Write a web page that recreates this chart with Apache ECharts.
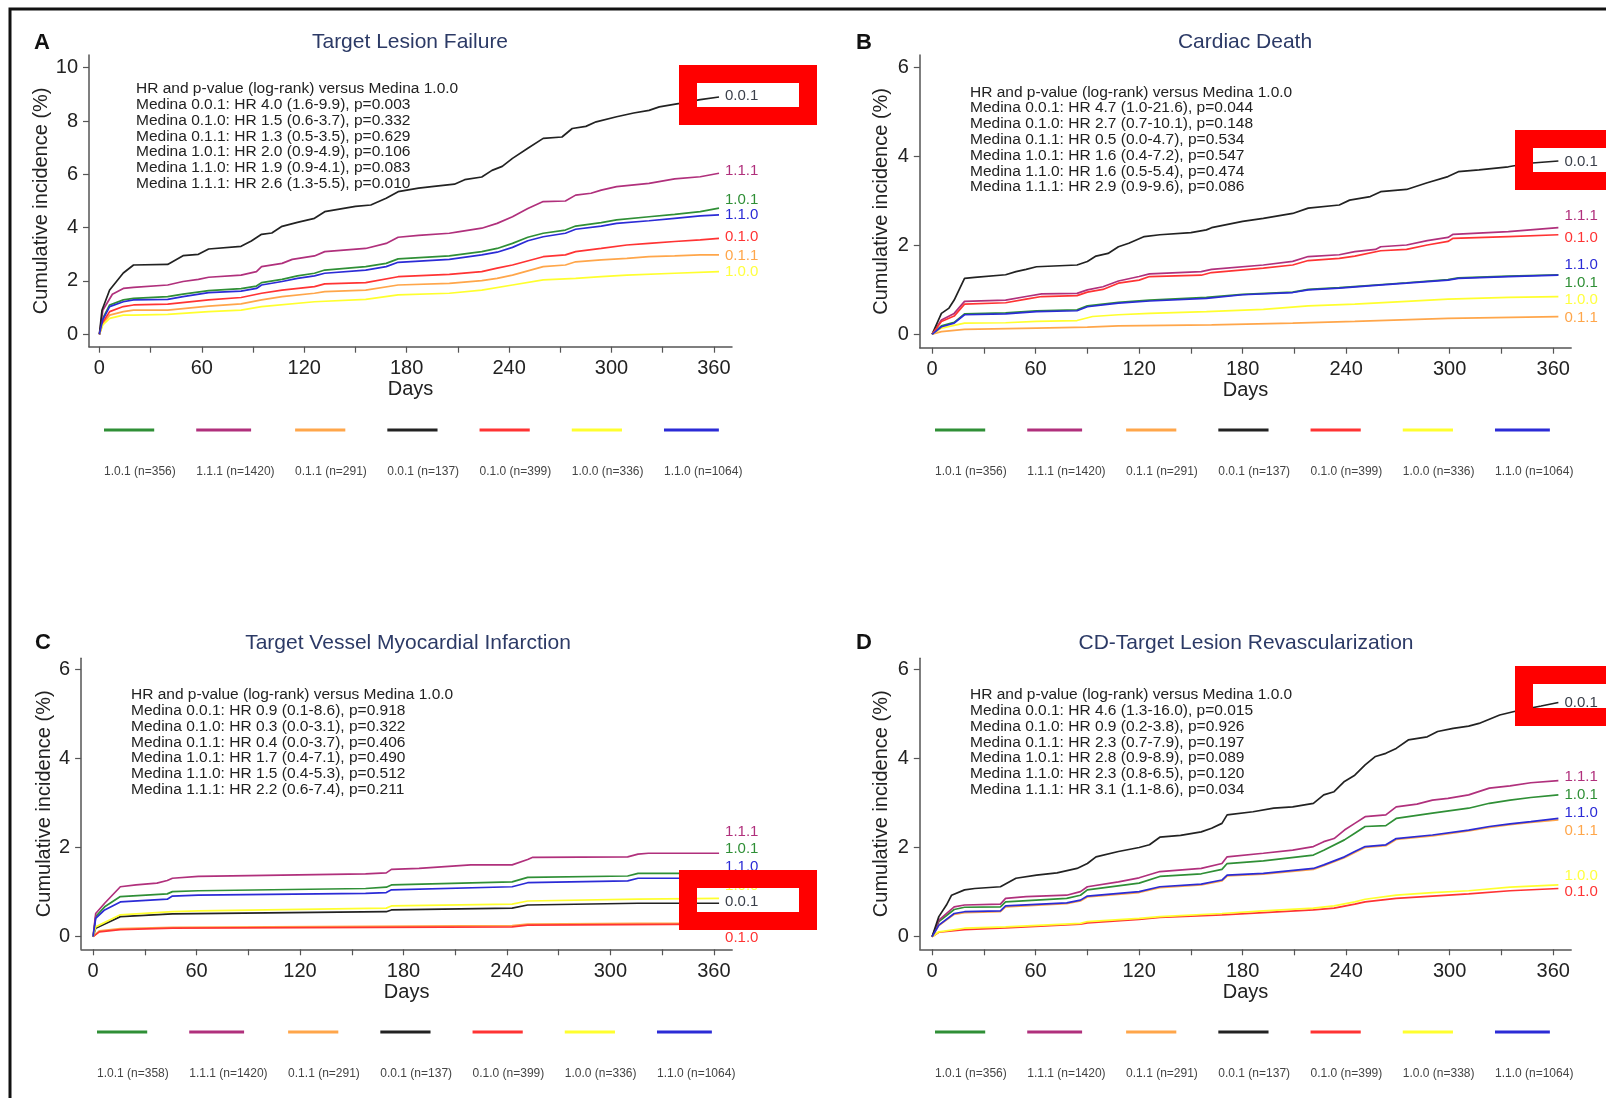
<!DOCTYPE html>
<html>
<head>
<meta charset="utf-8">
<title>Medina cumulative incidence</title>
<script src="https://cdn.jsdelivr.net/npm/echarts@6/dist/echarts.min.js"></script>
<style>
  html, body { margin: 0; padding: 0; background: #fff; }
  #chart { width: 1606px; height: 1098px; }
</style>
</head>
<body>
<div id="chart"></div>
<script>
// Medina groups, in legend / drawing order
const groups = ['1.0.1', '1.1.1', '0.1.1', '0.0.1', '0.1.0', '1.0.0', '1.1.0']
const xTicks = [0, 30, 60, 90, 120, 150, 180, 210, 240, 270, 300, 330, 360]
const xLabels = [0, 60, 120, 180, 240, 300, 360]

// A - Target Lesion Failure, [day, %]
const tlf_101 = [[0,0],[2,0.6],[6,1.1],[14,1.29],[20,1.35],[40,1.41],[49,1.51],[64,1.64],[83,1.71],[92,1.81],[95,1.94],[107,2.06],[116,2.19],[126,2.29],[132,2.41],[156,2.54],[168,2.66],[175,2.83],[205,2.94],[224,3.1],[233,3.22],[242,3.41],[251,3.64],[260,3.79],[273,3.91],[279,4.06],[294,4.19],[303,4.29],[322,4.41],[337,4.5],[352,4.6],[363,4.73]]
const tlf_111 = [[0,0],[2,0.9],[7.6,1.5],[14,1.72],[20,1.76],[40,1.85],[49,1.98],[58,2.06],[64,2.14],[83,2.22],[92,2.35],[95,2.54],[107,2.66],[113,2.81],[126,2.94],[132,3.1],[156,3.22],[168,3.41],[175,3.64],[187,3.71],[205,3.79],[211,3.85],[224,3.98],[233,4.16],[242,4.41],[251,4.72],[260,4.98],[273,5.0],[279,5.22],[288,5.29],[294,5.41],[303,5.54],[322,5.66],[337,5.83],[352,5.91],[363,6.04]]
const tlf_011 = [[0,0],[2,0.4],[6,0.72],[14,0.85],[20,0.91],[40,0.91],[64,1.06],[83,1.14],[95,1.29],[107,1.41],[126,1.54],[132,1.6],[156,1.66],[175,1.85],[205,1.91],[224,2.01],[233,2.1],[242,2.22],[260,2.54],[273,2.6],[279,2.72],[294,2.79],[309,2.85],[322,2.91],[337,2.94],[352,2.98],[363,2.98]]
const tlf_001 = [[0,0],[1.5,0.9],[6,1.66],[14,2.3],[20,2.6],[40,2.62],[49,2.95],[58,3.0],[64,3.2],[83,3.3],[89,3.5],[95,3.75],[101,3.8],[107,4.05],[116,4.2],[126,4.35],[132,4.6],[150,4.8],[159,4.85],[168,5.1],[175,5.35],[187,5.48],[196,5.55],[208,5.63],[214,5.8],[224,5.9],[230,6.15],[236,6.3],[242,6.6],[251,6.98],[260,7.35],[271,7.4],[277,7.72],[285,7.8],[291,7.97],[303,8.16],[313,8.3],[322,8.4],[328,8.53],[340,8.66],[352,8.8],[363,8.9]]
const tlf_010 = [[0,0],[2,0.45],[6,0.85],[14,1.04],[20,1.1],[40,1.13],[64,1.29],[83,1.38],[95,1.54],[107,1.66],[126,1.79],[132,1.89],[156,1.94],[175,2.16],[205,2.25],[224,2.35],[233,2.48],[242,2.6],[260,2.91],[273,2.98],[279,3.1],[294,3.22],[309,3.35],[322,3.41],[337,3.48],[352,3.54],[363,3.6]]
const tlf_100 = [[0,0],[2,0.35],[6,0.6],[14,0.72],[20,0.72],[40,0.75],[64,0.85],[83,0.91],[95,1.04],[126,1.22],[156,1.31],[175,1.48],[205,1.54],[224,1.66],[242,1.85],[260,2.04],[279,2.1],[294,2.16],[309,2.22],[337,2.29],[363,2.35]]
const tlf_110 = [[0,0],[2,0.55],[6,1.04],[14,1.22],[20,1.29],[40,1.31],[49,1.41],[64,1.56],[83,1.62],[92,1.72],[95,1.85],[107,1.98],[116,2.1],[126,2.19],[132,2.29],[156,2.41],[168,2.54],[175,2.7],[205,2.81],[224,2.98],[233,3.08],[242,3.26],[251,3.51],[260,3.66],[273,3.79],[279,3.94],[294,4.06],[303,4.16],[322,4.26],[337,4.35],[352,4.44],[363,4.48]]

// B - Cardiac Death
const cd_101 = [[0,0],[5.4,0.19],[12.8,0.27],[18.8,0.46],[42.6,0.48],[60.5,0.53],[84,0.55],[90,0.64],[108,0.72],[126,0.77],[159,0.83],[180,0.9],[209,0.95],[218,1.01],[236,1.05],[257,1.11],[275,1.16],[299,1.23],[305,1.27],[334,1.31],[363,1.34]]
const cd_111 = [[0,0],[5.4,0.32],[12.8,0.47],[18.8,0.74],[42.6,0.77],[54.5,0.85],[63.5,0.91],[84,0.92],[90,1.0],[99,1.07],[108,1.2],[120,1.3],[126,1.36],[156,1.41],[162,1.46],[192,1.56],[209,1.64],[218,1.75],[236,1.79],[245,1.86],[257,1.91],[260,1.97],[275,2.01],[287,2.11],[299,2.18],[302,2.25],[334,2.31],[363,2.4]]
const cd_011 = [[0,0],[5.4,0.06],[18.8,0.11],[60.5,0.14],[90,0.16],[108,0.19],[162,0.21],[209,0.25],[245,0.29],[299,0.36],[363,0.4]]
const cd_001 = [[0,0],[5.4,0.47],[9.8,0.59],[12.8,0.77],[18.8,1.26],[24.7,1.28],[42.6,1.34],[48.6,1.41],[54.5,1.46],[60.5,1.52],[84,1.56],[90,1.64],[95,1.76],[102,1.82],[108,1.97],[114,2.05],[123,2.2],[132,2.24],[150,2.29],[159,2.35],[162,2.4],[180,2.54],[192,2.61],[209,2.72],[218,2.84],[236,2.91],[242,3.02],[254,3.1],[260,3.21],[275,3.26],[287,3.41],[299,3.55],[305,3.66],[317,3.7],[334,3.77],[346,3.85],[363,3.9]]
const cd_010 = [[0,0],[5.4,0.29],[12.8,0.41],[18.8,0.68],[42.6,0.71],[54.5,0.79],[63.5,0.85],[84,0.87],[90,0.95],[99,1.01],[108,1.15],[120,1.22],[126,1.3],[156,1.33],[162,1.39],[192,1.49],[209,1.56],[218,1.66],[236,1.71],[245,1.76],[260,1.88],[275,1.91],[287,2.01],[299,2.09],[302,2.16],[334,2.2],[363,2.24]]
const cd_100 = [[0,0],[5.4,0.14],[18.8,0.25],[42.6,0.26],[60.5,0.29],[84,0.31],[93,0.4],[108,0.44],[126,0.47],[159,0.51],[192,0.56],[218,0.64],[245,0.68],[275,0.74],[299,0.79],[334,0.83],[363,0.85]]
const cd_110 = [[0,0],[5.4,0.17],[12.8,0.25],[18.8,0.44],[42.6,0.46],[60.5,0.51],[84,0.53],[90,0.62],[108,0.7],[126,0.75],[159,0.81],[180,0.89],[209,0.94],[218,1.0],[236,1.04],[257,1.1],[275,1.15],[299,1.22],[305,1.26],[334,1.3],[363,1.33]]

// C - Target Vessel Myocardial Infarction
const tvmi_101 = [[0,0],[1.5,0.45],[6.7,0.67],[15.8,0.9],[43,0.96],[46,1.01],[61,1.03],[158,1.08],[170,1.11],[173,1.16],[243,1.23],[252,1.33],[310,1.36],[316,1.42],[363,1.42]]
const tvmi_111 = [[0,0],[1.5,0.52],[6.7,0.75],[15.8,1.12],[24.9,1.16],[37,1.2],[43,1.26],[46,1.31],[61,1.35],[158,1.41],[170,1.43],[173,1.51],[189,1.53],[219,1.61],[243,1.61],[252,1.73],[255,1.78],[310,1.79],[316,1.85],[322,1.87],[363,1.87]]
const tvmi_011 = [[0,0],[3.6,0.13],[15.8,0.18],[46,0.21],[243,0.25],[252,0.28],[316,0.3],[363,0.3]]
const tvmi_001 = [[0,0],[1.5,0.19],[15.8,0.45],[46,0.51],[170,0.56],[173,0.6],[243,0.64],[252,0.71],[316,0.75],[363,0.75]]
const tvmi_010 = [[0,0],[3.6,0.11],[15.8,0.16],[46,0.19],[243,0.22],[252,0.26],[363,0.28]]
const tvmi_100 = [[0,0],[1.5,0.22],[15.8,0.49],[46,0.56],[61,0.58],[170,0.64],[173,0.69],[243,0.73],[252,0.8],[316,0.84],[363,0.86]]
const tvmi_110 = [[0,0],[1.5,0.41],[6.7,0.6],[15.8,0.78],[43,0.84],[46,0.91],[61,0.93],[158,0.97],[170,0.99],[173,1.05],[243,1.12],[252,1.21],[310,1.25],[316,1.31],[363,1.31]]

// D - CD-Target Lesion Revascularization
const cdtlr_101 = [[0,0],[3.9,0.34],[12.8,0.61],[18.8,0.66],[39.6,0.67],[42.6,0.78],[78,0.86],[86,0.93],[90,1.05],[120,1.2],[132,1.35],[156,1.41],[168,1.51],[171,1.64],[192,1.7],[221,1.83],[227,1.94],[239,2.17],[245,2.32],[251,2.47],[263,2.49],[269,2.65],[290,2.77],[311,2.88],[323,2.99],[335,3.06],[347,3.12],[363,3.18]]
const cdtlr_111 = [[0,0],[3.9,0.37],[12.8,0.67],[18.8,0.71],[39.6,0.73],[42.6,0.86],[54.5,0.9],[78,0.93],[86,1.01],[90,1.12],[108,1.23],[120,1.32],[132,1.46],[156,1.53],[168,1.64],[171,1.79],[192,1.87],[209,1.94],[221,2.02],[227,2.13],[233,2.2],[239,2.39],[245,2.54],[251,2.69],[263,2.73],[269,2.91],[281,2.97],[290,3.06],[299,3.1],[311,3.18],[323,3.33],[335,3.38],[347,3.45],[363,3.5]]
const cdtlr_011 = [[0,0],[3.9,0.25],[12.8,0.5],[18.8,0.54],[39.6,0.56],[42.6,0.67],[78,0.74],[86,0.8],[90,0.89],[120,0.99],[132,1.1],[156,1.16],[168,1.25],[171,1.36],[192,1.4],[221,1.51],[227,1.59],[239,1.77],[245,1.89],[251,2.0],[263,2.04],[269,2.18],[290,2.26],[311,2.37],[323,2.45],[335,2.51],[347,2.56],[363,2.62]]
const cdtlr_001 = [[0,0],[3.9,0.45],[8.3,0.71],[11.3,0.93],[18.8,1.05],[24.7,1.08],[39.6,1.12],[48.6,1.31],[60.5,1.38],[72.4,1.43],[84,1.53],[90,1.64],[95,1.79],[108,1.91],[120,2.0],[126,2.06],[132,2.23],[144,2.27],[156,2.35],[162,2.43],[168,2.54],[171,2.73],[186,2.8],[198,2.88],[209,2.91],[221,2.99],[227,3.18],[233,3.25],[239,3.48],[245,3.62],[251,3.85],[257,4.04],[263,4.11],[269,4.22],[276,4.41],[287,4.48],[293,4.6],[302,4.67],[311,4.72],[317,4.78],[329,4.97],[341,5.08],[353,5.17],[363,5.25]]
const cdtlr_010 = [[0,0],[3.9,0.1],[18.8,0.16],[42.6,0.2],[86,0.28],[90,0.31],[120,0.39],[132,0.43],[168,0.49],[192,0.54],[221,0.6],[233,0.64],[245,0.73],[251,0.78],[269,0.86],[290,0.91],[311,0.96],[335,1.03],[363,1.08]]
const cdtlr_100 = [[0,0],[3.9,0.11],[18.8,0.19],[42.6,0.22],[86,0.3],[90,0.34],[120,0.41],[132,0.45],[168,0.52],[192,0.58],[221,0.64],[233,0.69],[245,0.78],[251,0.84],[269,0.93],[290,0.99],[311,1.03],[335,1.11],[363,1.16]]
const cdtlr_110 = [[0,0],[3.9,0.26],[12.8,0.52],[18.8,0.56],[39.6,0.58],[42.6,0.69],[78,0.76],[86,0.82],[90,0.91],[120,1.01],[132,1.12],[156,1.18],[168,1.27],[171,1.38],[192,1.42],[221,1.53],[227,1.61],[239,1.79],[245,1.91],[251,2.02],[263,2.06],[269,2.2],[290,2.28],[311,2.39],[323,2.47],[335,2.53],[347,2.58],[363,2.65]]

// patients per group, in legend order
const countsA = [356, 1420, 291, 137, 399, 336, 1064]
const countsB = [356, 1420, 291, 137, 399, 336, 1064]
const countsC = [358, 1420, 291, 137, 399, 336, 1064]
const countsD = [356, 1420, 291, 137, 399, 338, 1064]

const hrHead = 'HR and p-value (log-rank) versus Medina 1.0.0'
const hrA = ['Medina 0.0.1: HR 4.0 (1.6-9.9), p=0.003', 'Medina 0.1.0: HR 1.5 (0.6-3.7), p=0.332', 'Medina 0.1.1: HR 1.3 (0.5-3.5), p=0.629', 'Medina 1.0.1: HR 2.0 (0.9-4.9), p=0.106', 'Medina 1.1.0: HR 1.9 (0.9-4.1), p=0.083', 'Medina 1.1.1: HR 2.6 (1.3-5.5), p=0.010']
const hrB = ['Medina 0.0.1: HR 4.7 (1.0-21.6), p=0.044', 'Medina 0.1.0: HR 2.7 (0.7-10.1), p=0.148', 'Medina 0.1.1: HR 0.5 (0.0-4.7), p=0.534', 'Medina 1.0.1: HR 1.6 (0.4-7.2), p=0.547', 'Medina 1.1.0: HR 1.6 (0.5-5.4), p=0.474', 'Medina 1.1.1: HR 2.9 (0.9-9.6), p=0.086']
const hrC = ['Medina 0.0.1: HR 0.9 (0.1-8.6), p=0.918', 'Medina 0.1.0: HR 0.3 (0.0-3.1), p=0.322', 'Medina 0.1.1: HR 0.4 (0.0-3.7), p=0.406', 'Medina 1.0.1: HR 1.7 (0.4-7.1), p=0.490', 'Medina 1.1.0: HR 1.5 (0.4-5.3), p=0.512', 'Medina 1.1.1: HR 2.2 (0.6-7.4), p=0.211']
const hrD = ['Medina 0.0.1: HR 4.6 (1.3-16.0), p=0.015', 'Medina 0.1.0: HR 0.9 (0.2-3.8), p=0.926', 'Medina 0.1.1: HR 2.3 (0.7-7.9), p=0.197', 'Medina 1.0.1: HR 2.8 (0.9-8.9), p=0.089', 'Medina 1.1.0: HR 2.3 (0.8-6.5), p=0.120', 'Medina 1.1.1: HR 3.1 (1.1-8.6), p=0.034']

const colors = ['#2f8f36', '#b0307c', '#ffa64a', '#222222', '#ff3333', '#ffff2e', '#2b2bd6']
const labelColors = ['#2f8f36', '#b0307c', '#ffa64a', '#3a3f4a', '#ff3333', '#ffff40', '#2b2bd6']
const FONT = "'Liberation Sans', Arial, sans-serif"

// pixel layout of each panel (axis lines, tick 0 / 360, label rows)
const panels = [
  { letter: 'A', title: 'Target Lesion Failure', curves: [tlf_101, tlf_111, tlf_011, tlf_001, tlf_010, tlf_100, tlf_110], counts: countsA, hr: hrA,
    x0: 99.4, x360: 713.9, axL: 89, axR: 732, y0: 334.3, yTop: 67.7, topVal: 10, axT: 55, axB: 346.7, yNameGap: 36,
    titleX: 410, titleY: 42, letterX: 42, letterY: 43, noteX: 136, noteY: 81,
    legX: 104, legLineY: 430, legTextY: 472, box: [688, 74],
    labelY: [200, 170.7, 256, 95.7, 236.7, 271.7, 215] },
  { letter: 'B', title: 'Cardiac Death', curves: [cd_101, cd_111, cd_011, cd_001, cd_010, cd_100, cd_110], counts: countsB, hr: hrB,
    x0: 932.1, x360: 1553.2, axL: 919.8, axR: 1571.2, y0: 334.3, yTop: 67.7, topVal: 6, axT: 55, axB: 347.7, yNameGap: 28,
    titleX: 1245, titleY: 42, letterX: 864, letterY: 43, noteX: 970, noteY: 84.5,
    legX: 935, legLineY: 430, legTextY: 472, box: [1524, 139],
    labelY: [282.7, 215.7, 318.3, 162.3, 238.3, 300, 265] },
  { letter: 'C', title: 'Target Vessel Myocardial Infarction', curves: [tvmi_101, tvmi_111, tvmi_011, tvmi_001, tvmi_010, tvmi_100, tvmi_110], counts: countsC, hr: hrC,
    x0: 93.1, x360: 713.9, axL: 81.1, axR: 732.2, y0: 936.7, yTop: 669, topVal: 6, axT: 658.3, axB: 949.3, yNameGap: 27,
    titleX: 408, titleY: 643, letterX: 43, letterY: 643, noteX: 131, noteY: 687,
    legX: 97, legLineY: 1032, legTextY: 1074, box: [688, 879],
    labelY: [849.3, 831.7, 919, 901.7, 937.7, 886, 866.7] },
  { letter: 'D', title: 'CD-Target Lesion Revascularization', curves: [cdtlr_101, cdtlr_111, cdtlr_011, cdtlr_001, cdtlr_010, cdtlr_100, cdtlr_110], counts: countsD, hr: hrD,
    x0: 932.1, x360: 1553.2, axL: 919.8, axR: 1571.2, y0: 936.7, yTop: 669, topVal: 6, axT: 658.3, axB: 949.3, yNameGap: 28,
    titleX: 1246, titleY: 643, letterX: 864, letterY: 643, noteX: 970, noteY: 687,
    legX: 935, legLineY: 1032, legTextY: 1074, box: [1524, 675],
    labelY: [795, 777.3, 831, 702.7, 892.3, 876, 813.3] }
]

const measure = document.createElement('canvas').getContext('2d')
measure.font = '12px ' + FONT

const grids = [], xAxes = [], yAxes = [], series = []
const graphic = [
  { type: 'rect', shape: { x: 10, y: 9, width: 1700, height: 1200 }, style: { fill: 'none', stroke: '#111', lineWidth: 3 }, silent: true }
]

panels.forEach((p, i) => {
  const pxDay = (p.x360 - p.x0) / 360
  const pxUnit = (p.y0 - p.yTop) / p.topVal
  const yTicks = []
  for (let v = 0; v <= p.topVal; v += 2) yTicks.push(v)

  grids.push({ left: p.axL, top: p.axT, width: p.axR - p.axL, height: p.axB - p.axT, outerBoundsMode: 'none' })

  const axisLine = { onZero: false, lineStyle: { color: '#555', width: 1.5 } }
  xAxes.push({
    type: 'value', gridIndex: i,
    min: -(p.x0 - p.axL) / pxDay, max: 360 + (p.axR - p.x360) / pxDay,
    axisLine: axisLine,
    axisTick: { customValues: xTicks, length: 6, lineStyle: { color: '#555', width: 1.2 } },
    axisLabel: { customValues: xLabels, fontSize: 20, fontFamily: FONT, color: '#222', margin: 12 },
    splitLine: { show: false },
    name: 'Days', nameLocation: 'middle', nameGap: 33,
    nameTextStyle: { fontSize: 20, fontFamily: FONT, color: '#222' }
  })
  yAxes.push({
    type: 'value', gridIndex: i,
    min: -(p.axB - p.y0) / pxUnit, max: p.topVal + (p.yTop - p.axT) / pxUnit,
    axisLine: axisLine,
    axisTick: { customValues: yTicks, length: 6, lineStyle: { color: '#555', width: 1.2 } },
    axisLabel: { customValues: yTicks, fontSize: 20, fontFamily: FONT, color: '#222', margin: 11 },
    splitLine: { show: false },
    name: 'Cumulative incidence (%)', nameLocation: 'middle', nameGap: p.yNameGap, nameRotate: 90,
    nameTextStyle: { fontSize: 20, fontFamily: FONT, color: '#222' }
  })

  groups.forEach((g, j) => {
    const data = p.curves[j]
    const last = data[data.length - 1]
    const endY = p.y0 - last[1] * pxUnit
    series.push({
      type: 'line', name: g, xAxisIndex: i, yAxisIndex: i,
      data: data, showSymbol: false, symbol: 'none', silent: true,
      lineStyle: { color: colors[j], width: 1.7 },
      itemStyle: { color: colors[j] },
      endLabel: {
        show: true, formatter: g, distance: 6, offset: [0, p.labelY[j] - endY],
        color: labelColors[j], fontSize: 15, fontFamily: FONT
      }
    })
  })

  // panel letter and title
  graphic.push({ type: 'text', x: p.letterX, y: p.letterY, silent: true,
    style: { text: p.letter, font: 'bold 22px ' + FONT, fill: '#111', align: 'center', verticalAlign: 'middle' } })
  graphic.push({ type: 'text', x: p.titleX, y: p.titleY, silent: true,
    style: { text: p.title, font: '21px ' + FONT, fill: '#2c3a66', align: 'center', verticalAlign: 'middle' } })

  // HR annotation block
  graphic.push({ type: 'text', x: p.noteX, y: p.noteY, silent: true,
    style: { text: [hrHead].concat(p.hr).join('\n'), font: '15.5px ' + FONT, lineHeight: 15.8, fill: '#222', align: 'left', verticalAlign: 'top' } })

  // legend: coloured segment above, label below
  let lx = p.legX
  groups.forEach((g, j) => {
    const txt = g + ' (n=' + p.counts[j] + ')'
    const w = measure.measureText(txt).width
    graphic.push({ type: 'line', silent: true, shape: { x1: lx, y1: p.legLineY, x2: lx + w * 0.7, y2: p.legLineY },
      style: { stroke: colors[j], lineWidth: 3 } })
    graphic.push({ type: 'text', x: lx, y: p.legTextY, silent: true,
      style: { text: txt, font: '12px ' + FONT, fill: '#444', align: 'left', verticalAlign: 'middle' } })
    lx += w + 20.5
  })

  // red highlight frame
  graphic.push({ type: 'rect', z: 100, silent: true, shape: { x: p.box[0], y: p.box[1], width: 120, height: 42 },
    style: { fill: 'none', stroke: '#ff0000', lineWidth: 18 } })
})

const chart = echarts.init(document.getElementById('chart'), null, { renderer: 'canvas' })
chart.setOption({
  animation: false,
  backgroundColor: '#fff',
  grid: grids,
  xAxis: xAxes,
  yAxis: yAxes,
  series: series,
  graphic: graphic
})
</script>
</body>
</html>
